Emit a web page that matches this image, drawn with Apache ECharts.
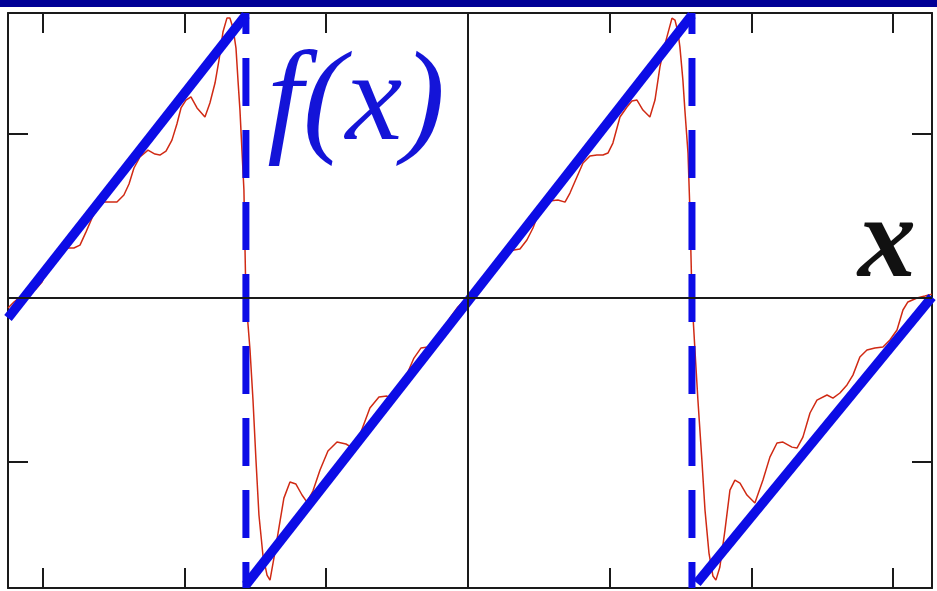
<!DOCTYPE html>
<html>
<head>
<meta charset="utf-8">
<title>f(x) sawtooth</title>
<script src="https://cdn.jsdelivr.net/npm/echarts@6.0.0/dist/echarts.min.js"></script>
<style>
  html, body { margin: 0; padding: 0; background: #fff; }
  #saw { width: 937px; height: 591px; }
</style>
</head>
<body>
<div id="saw"></div>
<script>
// partial Fourier sum (red)
var redX = [
  -3.246,-3.204,-3.162,-3.105,-3.049,-3.006,-2.964,-2.915,-2.865,-2.823,-2.781,-2.738,-2.696,-2.653,-2.611,-2.569,
  -2.526,-2.477,-2.428,-2.392,-2.357,-2.315,-2.258,-2.209,-2.174,-2.131,-2.089,-2.054,-2.025,-1.990,-1.955,-1.912,
  -1.856,-1.821,-1.785,-1.757,-1.729,-1.701,-1.680,-1.658,-1.637,-1.623,-1.609,-1.595,-1.581,-1.567,
  -1.538,-1.517,-1.496,-1.475,-1.447,-1.418,-1.397,-1.369,-1.334,-1.299,-1.256,-1.214,-1.171,-1.136,-1.094,-1.044,
  -0.988,-0.924,-0.861,-0.812,-0.755,-0.692,-0.628,-0.572,-0.522,-0.480,-0.430,-0.381,-0.332,-0.282,-0.240,-0.183,
  -0.127,-0.071,-0.035,0,
  0.035,0.085,0.134,0.183,0.226,0.275,0.325,0.367,0.416,0.459,0.494,0.529,0.572,0.635,0.685,0.720,0.769,0.812,
  0.861,0.910,0.953,0.988,1.023,1.073,1.122,1.157,1.193,1.235,1.284,1.320,1.355,1.383,1.404,1.440,1.461,1.482,
  1.496,1.517,1.531,1.553,1.567,1.581,
  1.602,1.623,1.651,1.673,1.701,1.729,1.750,1.778,1.814,1.849,1.884,1.920,1.969,2.025,2.082,2.131,2.181,2.223,
  2.287,2.322,2.364,2.414,2.463,2.534,2.576,2.625,2.675,2.717,2.766,2.816,2.872,2.929,2.978,3.028,3.070,3.105,
  3.169,3.225,3.275
];
var redY = [
  -0.061,-0.024,0.006,0.030,0.055,0.098,0.183,0.256,0.293,0.305,0.305,0.323,0.402,0.488,0.555,0.585,
  0.585,0.585,0.628,0.695,0.793,0.860,0.902,0.878,0.872,0.896,0.963,1.061,1.159,1.207,1.226,1.159,
  1.104,1.189,1.311,1.451,1.622,1.707,1.707,1.646,1.524,1.329,1.146,0.902,0.659,0,
  -0.317,-0.622,-0.988,-1.323,-1.567,-1.689,-1.720,-1.585,-1.402,-1.220,-1.122,-1.134,-1.201,-1.244,-1.177,-1.049,
  -0.933,-0.878,-0.890,-0.915,-0.817,-0.671,-0.604,-0.598,-0.622,-0.579,-0.463,-0.366,-0.305,-0.299,-0.317,-0.232,
  -0.122,-0.055,-0.024,0,
  0.030,0.073,0.122,0.207,0.250,0.280,0.293,0.299,0.354,0.427,0.506,0.567,0.591,0.598,0.585,0.640,0.738,0.823,
  0.866,0.872,0.872,0.884,0.945,1.104,1.165,1.201,1.207,1.146,1.104,1.207,1.409,1.524,1.591,1.707,1.695,1.622,
  1.530,1.329,1.146,0.884,0.518,0,
  -0.317,-0.622,-0.988,-1.293,-1.555,-1.695,-1.720,-1.640,-1.415,-1.171,-1.110,-1.128,-1.201,-1.250,-1.110,-0.970,-0.884,-0.878,
  -0.909,-0.915,-0.848,-0.701,-0.622,-0.591,-0.610,-0.579,-0.530,-0.470,-0.360,-0.317,-0.305,-0.299,-0.256,-0.195,-0.073,-0.024,
  0,0.012,0.024
];

// hand drawn f(x): three slopes and two jumps (blue)
var slopeStartX = [-3.246, -1.567, 1.616];
var slopeStartY = [-0.122, -1.750, -1.738];
var slopeEndX   = [-1.567,  1.581, 3.275];
var slopeEndY   = [ 1.726,  1.726, 0.006];
var jumpX = [-1.567, 1.581];

// axis ranges and ticks
var xMin = -3.246, xMax = 3.275;
var yMin = -1.768, yMax = 1.738;
var xTicks = [-3, -2, -1, 1, 2, 3];
var yTicks = [-1, 1];

var myChart = echarts.init(document.getElementById('saw'));

function frameAxis(pos, min, max, ticks) {
  return {
    type: 'value',
    position: pos,
    min: min,
    max: max,
    axisLine: { show: true, onZero: false, lineStyle: { color: '#1a1a1a', width: 2 } },
    axisTick: { show: true, inside: true, length: 20, customValues: ticks,
                lineStyle: { color: '#1a1a1a', width: 2 } },
    axisLabel: { show: false, customValues: ticks },
    splitLine: { show: false }
  };
}

var redData = [];
for (var i = 0; i < redX.length; i++) {
  redData.push([redX[i], redY[i]]);
}

var series = [{
  name: 'fourier',
  type: 'line',
  data: redData,
  symbol: 'none',
  silent: true,
  z: 2,
  lineStyle: { color: '#d02a14', width: 1.5 },
  markLine: {
    silent: true,
    symbol: ['none', 'none'],
    label: { show: false },
    lineStyle: { color: '#1a1a1a', width: 2, type: 'solid' },
    data: [{ xAxis: 0 }, { yAxis: 0 }]
  }
}];

// slopes
for (var k = 0; k < slopeStartX.length; k++) {
  series.push({
    type: 'line',
    data: [[slopeStartX[k], slopeStartY[k]], [slopeEndX[k], slopeEndY[k]]],
    symbol: 'none',
    silent: true,
    z: 4,
    lineStyle: { color: '#0c0ce6', width: 9.5, cap: 'butt' }
  });
}
// dashed jumps
for (var j = 0; j < jumpX.length; j++) {
  series.push({
    type: 'line',
    data: [[jumpX[j], yMax], [jumpX[j], yMin]],
    symbol: 'none',
    silent: true,
    z: 4,
    lineStyle: { color: '#0c0ce6', width: 7, type: [48, 24], dashOffset: 27, cap: 'butt' }
  });
}

var option = {
  animation: false,
  backgroundColor: '#ffffff',
  grid: { left: 8, top: 13, right: 5, bottom: 3 },
  xAxis: [frameAxis('bottom', xMin, xMax, xTicks), frameAxis('top', xMin, xMax, xTicks)],
  yAxis: [frameAxis('left', yMin, yMax, yTicks), frameAxis('right', yMin, yMax, yTicks)],
  graphic: [
    { type: 'rect', left: 0, top: 0, z: 10,
      shape: { width: 937, height: 7 }, style: { fill: '#000096' } },
    { type: 'text', x: 356, y: 105, z: 10,
      style: { text: 'f(x)', font: 'italic 128px "Liberation Serif"', fill: '#1414d8',
               align: 'center', verticalAlign: 'middle' } },
    { type: 'text', x: 887, y: 246, z: 10,
      style: { text: 'x', font: 'italic bold 116px "Liberation Serif"', fill: '#111111',
               align: 'center', verticalAlign: 'middle' } }
  ],
  series: series
};

myChart.setOption(option);
</script>
</body>
</html>
